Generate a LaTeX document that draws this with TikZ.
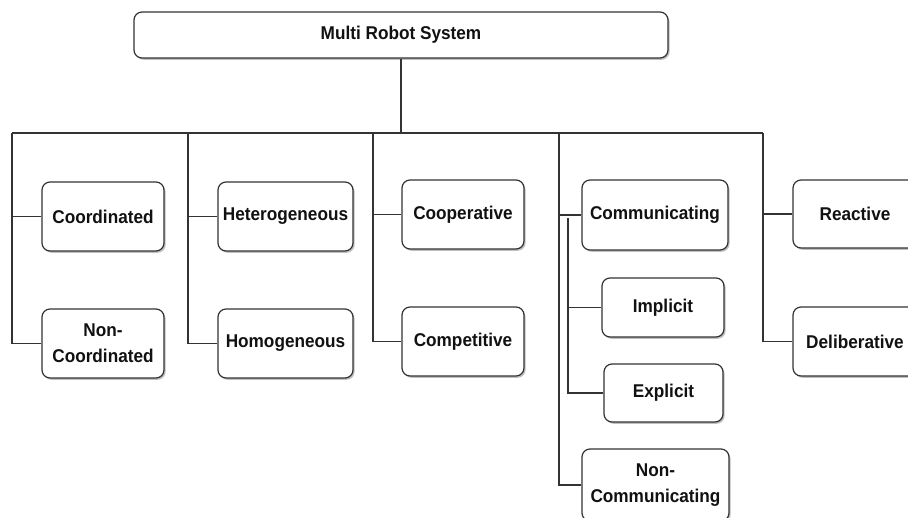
\documentclass[tikz,border=0pt]{standalone}
\usepackage{fontspec}
\setmainfont{Liberation Sans}[FakeStretch=0.93]
\usetikzlibrary{shadows}
\definecolor{linec}{HTML}{333333}
\definecolor{textc}{HTML}{111111}
\begin{document}
\begin{tikzpicture}[x=1pt,y=-1pt,
  box/.style={draw=linec, line width=1.2pt, rounded corners=8pt, fill=white,
    align=center, text=textc, font=\fontsize{18.5}{26}\selectfont\bfseries,
    inner sep=0pt,
    drop shadow={shadow xshift=1.6pt, shadow yshift=-1.8pt, fill=black!45, opacity=0.55}},
  conn/.style={draw=linec, line width=1.2pt}]
\clip (0,0) rectangle (908,517);
\fill[white] (0,0) rectangle (908,517);

% top
\node[box, minimum width=534, minimum height=46] (mrs) at (401,35) {Multi Robot System};

% column 1
\node[box, minimum width=122, minimum height=69] (coord) at (103,216.5) {Coordinated};
\node[box, minimum width=122, minimum height=69] (ncoord) at (103,343.5) {Non-\\Coordinated};
% column 2
\node[box, minimum width=135, minimum height=69] (het) at (285.5,216.5) {Heterogeneous};
\node[box, minimum width=135, minimum height=69] (hom) at (285.5,343.5) {Homogeneous};
% column 3
\node[box, minimum width=122, minimum height=69] (coop) at (463,214.5) {Cooperative};
\node[box, minimum width=122, minimum height=69] (comp) at (463,341.5) {Competitive};
% column 4
\node[box, minimum width=146, minimum height=70] (comm) at (655,215) {Communicating};
\node[box, minimum width=122, minimum height=59] (impl) at (663,307.5) {Implicit};
\node[box, minimum width=119, minimum height=58] (expl) at (663.5,393) {Explicit};
\node[box, minimum width=147, minimum height=72] (ncomm) at (655.5,485) {Non-\\Communicating};
% column 5
\node[box, minimum width=124, minimum height=68] (react) at (855,214) {Reactive};
\node[box, minimum width=124, minimum height=69] (delib) at (855,341.5) {Deliberative};

% bus
\coordinate (bus) at (401,133);
\coordinate (c1) at (12,133);
\coordinate (c2) at (188,133);
\coordinate (c3) at (373,133);
\coordinate (c4) at (559,133);
\coordinate (c5) at (763,133);
\coordinate (in4) at (568,218);
\coordinate (thA) at (456,133);
\coordinate (thB) at (582,133);

\draw[conn] (mrs.south) -- (bus);
\draw[conn] (c1) -- (c5);
\draw[draw=linec, line width=2.4pt] (thA) -- (thB);

\draw[conn] (c1) |- (ncoord.west);
\draw[conn] (c1 |- coord.west) -- (coord.west);
\draw[conn] (c2) |- (hom.west);
\draw[conn] (c2 |- het.west) -- (het.west);
\draw[conn] (c3) |- (comp.west);
\draw[conn] (c3 |- coop.west) -- (coop.west);
\draw[conn] (c4) |- (ncomm.west);
\draw[conn] (c4 |- comm.west) -- (comm.west);
\draw[conn] (in4) |- (expl.west);
\draw[conn] (in4 |- impl.west) -- (impl.west);
\draw[conn] (c5) |- (delib.west);
\draw[conn] (c5 |- react.west) -- (react.west);
\end{tikzpicture}
\end{document}
